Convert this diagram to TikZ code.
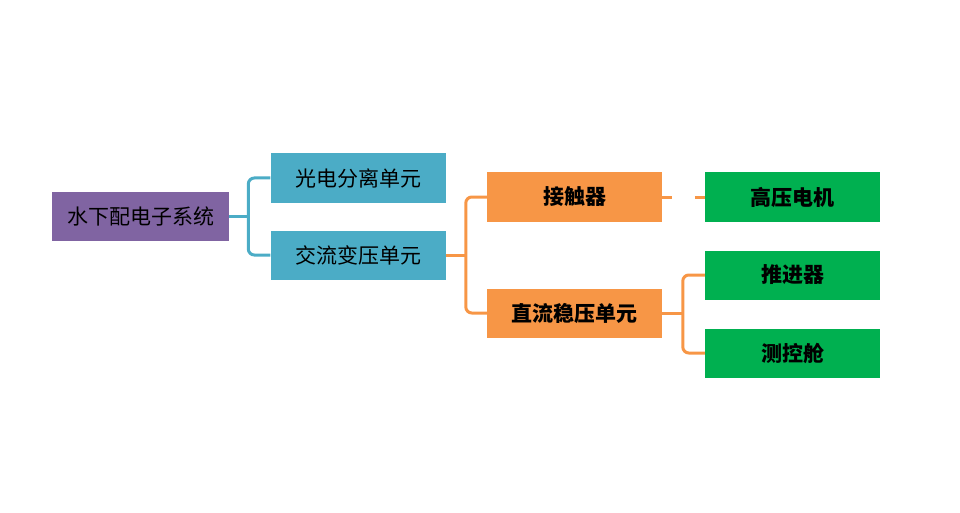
\documentclass[tikz,border=0pt]{standalone}
\usepackage{fontspec}
\setmainfont{Noto Sans CJK SC}
\usetikzlibrary{positioning}
\definecolor{zi}{HTML}{8064A2}
\definecolor{lan}{HTML}{4BACC6}
\definecolor{cheng}{HTML}{F79646}
\definecolor{lv}{HTML}{00B050}
\tikzset{
  kasten/.style={rectangle,minimum width=175pt,minimum height=49pt,inner sep=0pt,font=\fontsize{21}{24}\selectfont},
  fett/.style={kasten,font=\fontsize{21}{24}\selectfont\bfseries},
  ast/.style={line width=3pt,rounded corners=6pt}
}
\begin{document}
\begin{tikzpicture}[x=1pt,y=-1pt]
\useasboundingbox (0,0) rectangle (960,513);
%Wurzel und erste Ebene
\node[kasten,fill=zi,minimum width=177pt] (wurzel) at (140.5,216.5) {水下配电子系统};
\node[kasten,fill=lan] (guang) at (358,178) {光电分离单元};
\node[kasten,fill=lan] (jiao) at (358,255) {交流变压单元};
%zweite Ebene
\node[fett,fill=cheng] (jie) at (574.5,197) {接触器};
\node[fett,fill=cheng] (zhi) at (574.5,313) {直流稳压单元};
%dritte Ebene
\node[fett,fill=lv] (gao) at (792.5,197) {高压电机};
\node[fett,fill=lv] (tui) at (792.5,275) {推进器};
\node[fett,fill=lv] (ce) at (792.5,353) {测控舱};
%Verbindungen
\draw[ast,lan] (wurzel.east) -- ++(18,0);
\draw[ast,lan] (guang.west) -- ++(-22,0) |- (jiao.west);
\draw[ast,cheng] (jiao.east) -- ++(21,0);
\draw[ast,cheng] (jie.west) -- ++(-21,0) |- (zhi.west);
\draw[ast,cheng] (jie.east) -- ++(10,0) coordinate (a);
\draw[ast,cheng] ([xshift=-10pt]gao.west) -- (gao.west);
\draw[ast,cheng] (zhi.east) -- ++(22,0);
\draw[ast,cheng] (tui.west) -- ++(-22,0) |- (ce.west);
\end{tikzpicture}
\end{document}
